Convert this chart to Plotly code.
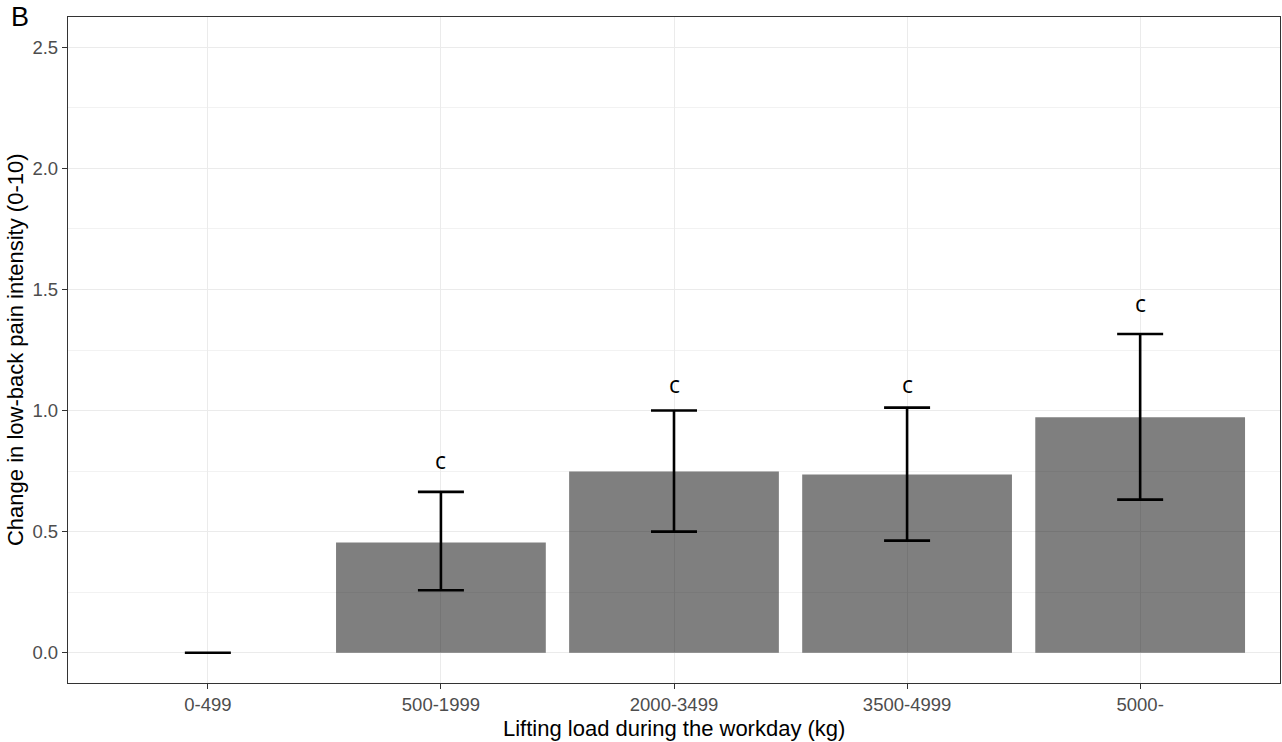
import plotly.graph_objects as go

categories = ["0-499", "500-1999", "2000-3499", "3500-4999", "5000-"]
means = [0.0, 0.455, 0.748, 0.736, 0.972]
ci_low = [0.0, 0.258, 0.500, 0.463, 0.632]
ci_high = [0.0, 0.664, 1.000, 1.012, 1.316]
sig_labels = ["", "c", "c", "c", "c"]
label_y = [None, 0.797, 1.111, 1.111, 1.444]

fig = go.Figure()
fig.add_trace(go.Bar(
    x=categories, y=means, width=0.9,
    marker=dict(color="rgba(0,0,0,0.5)", line=dict(width=0)),
    error_y=dict(type="data", symmetric=False,
                 array=[h - m for h, m in zip(ci_high, means)],
                 arrayminus=[m - l for m, l in zip(means, ci_low)],
                 color="black", thickness=2.6, width=23),
    showlegend=False, hoverinfo="skip",
))

for c, t, yv in zip(categories, sig_labels, label_y):
    if t:
        fig.add_annotation(x=c, y=yv, text=t, showarrow=False,
                           font=dict(family="Open Sans, Liberation Sans, sans-serif", size=23, color="black"),
                           yanchor="middle")

fig.add_annotation(xref="paper", yref="paper", x=-0.049, y=1.0, text="B", showarrow=False,
                   xanchor="left", yanchor="middle",
                   font=dict(family="Liberation Sans, Arial, sans-serif", size=27, color="black"))

title_font = dict(family="Liberation Sans, Arial, sans-serif", size=22, color="black")
fig.add_annotation(xref="paper", yref="paper", x=0.5, y=-0.0676, text="Lifting load during the workday (kg)",
                   showarrow=False, xanchor="center", yanchor="middle", font=title_font)
fig.add_annotation(xref="paper", yref="paper", x=-0.0437, y=0.5, text="Change in low-back pain intensity (0-10)",
                   showarrow=False, xanchor="center", yanchor="middle", textangle=-90, font=title_font)

axis_font = dict(family="Liberation Sans, Arial, sans-serif", size=18.5, color="#4d4d4d")
fig.update_xaxes(range=[-0.6, 4.6], showgrid=True, gridcolor="#ebebeb", gridwidth=1,
                 ticks="outside", ticklen=5, tickcolor="#333333", tickwidth=1,
                 tickfont=axis_font, showline=True, linecolor="#333333", linewidth=1.3, mirror=True,
                 zeroline=False)
fig.update_yaxes(range=[-0.125, 2.625], tickvals=[0, 0.5, 1.0, 1.5, 2.0, 2.5],
                 ticktext=["0.0", "0.5", "1.0", "1.5", "2.0", "2.5"],
                 showgrid=True, gridcolor="#ebebeb", gridwidth=1,
                 minor=dict(tickvals=[0.25, 0.75, 1.25, 1.75, 2.25], showgrid=True, gridcolor="#f2f2f2", gridwidth=1),
                 ticks="outside", ticklen=5, tickcolor="#333333", tickwidth=1,
                 tickfont=axis_font, showline=True, linecolor="#333333", linewidth=1.3, mirror=True,
                 zeroline=False)

fig.update_layout(width=1282, height=742, margin=dict(l=68, r=2, t=17, b=59, autoexpand=False),
                  plot_bgcolor="white", paper_bgcolor="white", bargap=0.1)
fig.write_html("out.html")
